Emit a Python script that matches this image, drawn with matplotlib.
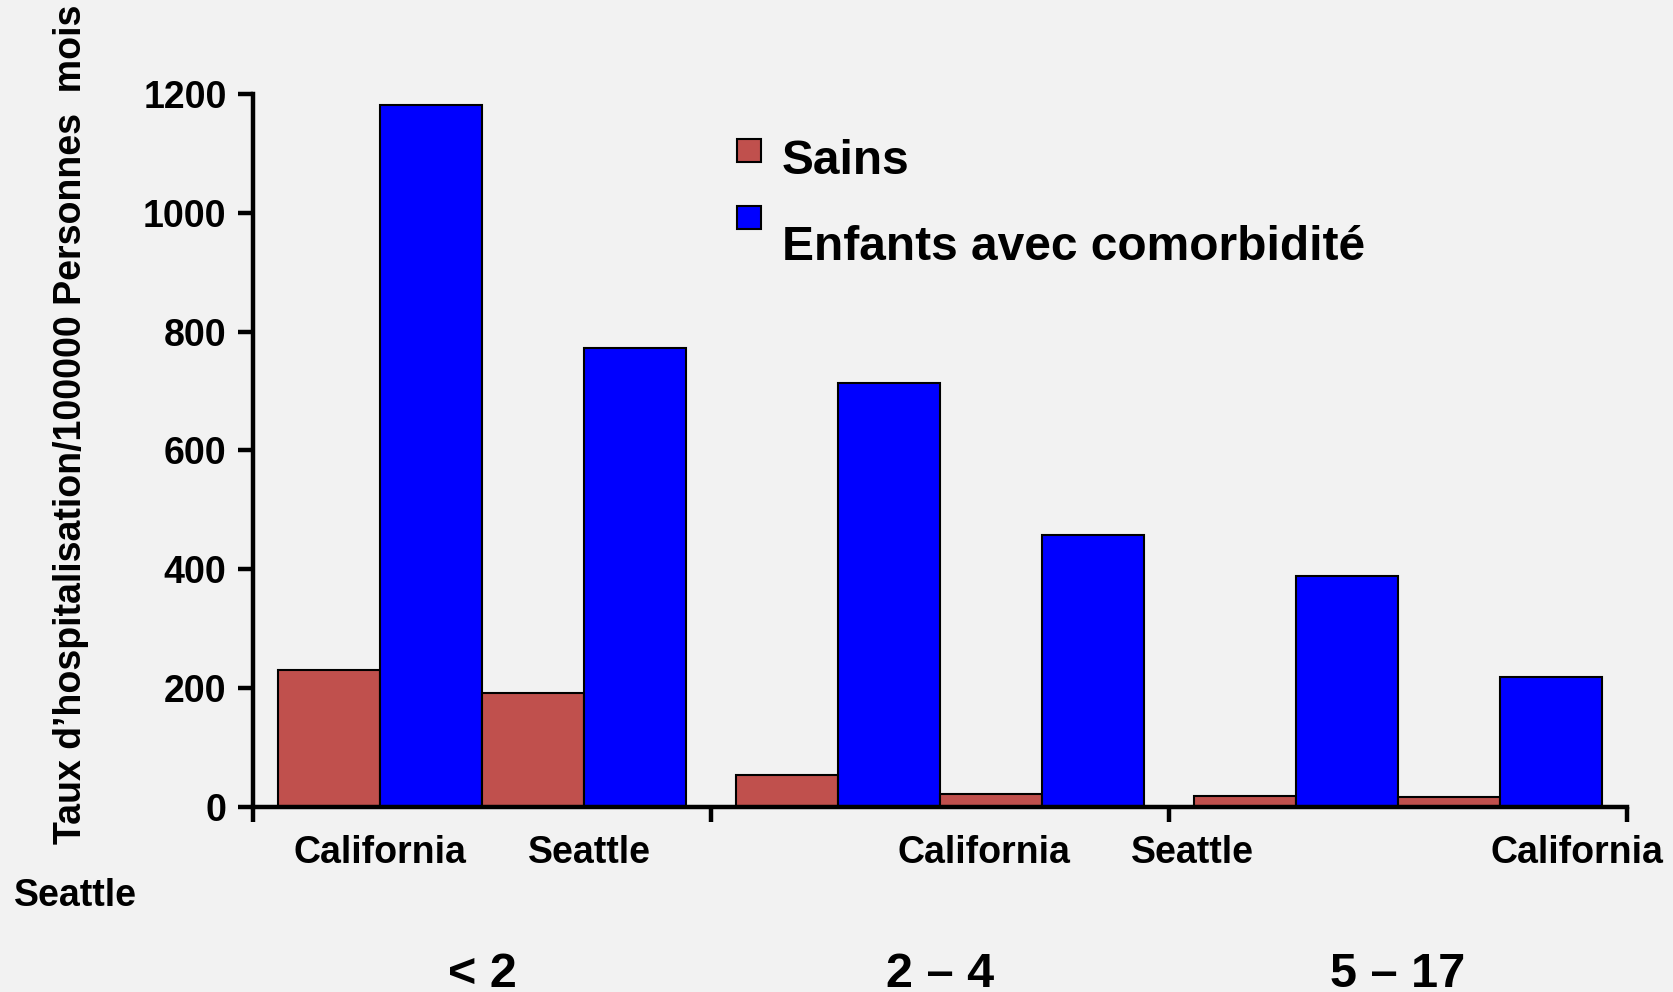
import matplotlib
matplotlib.use("Agg")
import matplotlib.pyplot as plt
from matplotlib.patches import Rectangle
import numpy as np

# ---- data ----
age_groups = ["< 2", "2 – 4", "5 – 17"]
sites = ["California", "Seattle"]
sains = [230, 192, 54, 22, 18, 16]            # healthy, per (age, site)
comorb = [1182, 773, 713, 457, 388, 218]       # with comorbidity
series_names = ["Sains", "Enfants avec comorbidité"]
yticks = [0, 200, 400, 600, 800, 1000, 1200]
xlabels = ["California", "Seattle", "California", "Seattle", "California"]
xlabel_pos = [0.277, 0.734, 1.596, 2.052, 2.891]

BG = "#f2f2f2"
RED = "#c0504d"
BLUE = "#0000ff"
FONT = ["Liberation Sans", "DejaVu Sans"]
plt.rcParams["font.family"] = FONT
plt.rcParams["font.weight"] = "bold"

fig = plt.figure(figsize=(16.73, 9.92), dpi=100, facecolor=BG)
ax = fig.add_axes([253 / 1673, 1 - 807 / 992, (1627 - 253) / 1673, (807 - 94) / 992])
ax.set_facecolor(BG)

w = 0.2226
for g in range(len(age_groups)):
    c = g + 0.5
    for s in range(len(sites)):
        i = g * 2 + s
        xr = c + (-1.5 + 2 * s) * w
        xb = c + (-0.5 + 2 * s) * w
        ax.bar(xr, sains[i], width=w, color=RED, edgecolor="black", linewidth=1.5, zorder=2)
        ax.bar(xb, comorb[i], width=w, color=BLUE, edgecolor="black", linewidth=1.5, zorder=2)

ax.set_xlim(0, 3)
ax.set_ylim(0, 1200)
for sp in ["top", "right"]:
    ax.spines[sp].set_visible(False)
for sp in ["left", "bottom"]:
    ax.spines[sp].set_linewidth(3.2)
ax.set_yticks(yticks)
ax.set_yticklabels([str(t) for t in yticks], fontsize=27, fontweight="bold")
ax.set_xticks([0, 1, 2, 3])
ax.set_xticklabels([])
ax.tick_params(axis="both", which="major", direction="out", length=11, width=3.2, pad=8)
ax.set_xticks(xlabel_pos, minor=True)
ax.set_xticklabels(xlabels, minor=True, fontsize=27, fontweight="bold")
ax.tick_params(axis="x", which="minor", length=0, pad=20)

# wrapped label
fig.text(75 / 1673, 1 - 896 / 992, "Seattle", fontsize=27, fontweight="bold",
         ha="center", va="center")

# age group labels
for g, lab in enumerate(age_groups):
    ax.text(g + 0.5, -0.235, lab, transform=ax.get_xaxis_transform(),
            fontsize=35, fontweight="bold", ha="center", va="center")

# y label
fig.text(71 / 1673, 1 - 424 / 992, "Taux d\u2019hospitalisation/100000 Personnes  mois",
         rotation=90, fontsize=27, fontweight="bold", ha="center", va="center")

# legend
for (y0, col) in [(139, RED), (206, BLUE)]:
    fig.patches.append(Rectangle((737 / 1673, 1 - (y0 + 23) / 992), 24 / 1673, 23 / 992,
                                 transform=fig.transFigure, facecolor=col,
                                 edgecolor="black", linewidth=1.5))
fig.text(782 / 1673, 1 - 161 / 992, series_names[0], fontsize=34.5, fontweight="bold",
         ha="left", va="center")
fig.text(782 / 1673, 1 - 248 / 992, series_names[1], fontsize=34.5, fontweight="bold",
         ha="left", va="center")

fig.savefig("out.png", dpi=100, facecolor=BG)
